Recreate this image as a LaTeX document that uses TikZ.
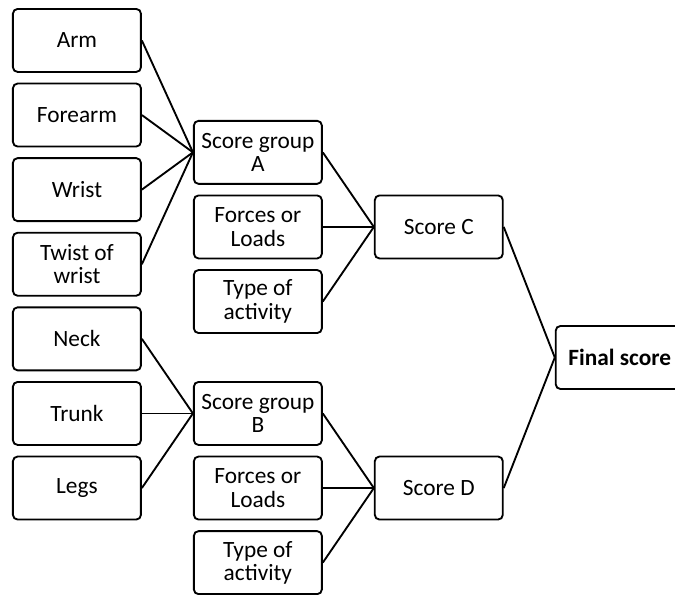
\documentclass[tikz,border=0pt]{standalone}
\usepackage{fontspec}
\setmainfont{Carlito}
\usetikzlibrary{positioning,calc}

\begin{document}
\begin{tikzpicture}[
  node distance=7.3pt and 38.3pt,
  part/.style={
    draw,
    line width=1.4pt,
    rounded corners=3.5pt,
    minimum width=96pt,
    minimum height=47.25pt,
    inner sep=1pt,
    align=center,
    font=\fontsize{17.5}{17.5}\selectfont
  },
  link/.style={line width=1.4pt}
]

  % Body parts, group A
  \node[part] (arm) {Arm};
  \node[part, below=of arm] (forearm) {Forearm};
  \node[part, below=of forearm] (wrist) {Wrist};
  \node[part, below=of wrist] (twist) {Twist of\\wrist};

  % Body parts, group B
  \node[part, below=of twist] (neck) {Neck};
  \node[part, below=of neck] (trunk) {Trunk};
  \node[part, below=of trunk] (legs) {Legs};

  % Page size
  \useasboundingbox ($(arm.north west)+(-9pt,6pt)$) rectangle +(506.25pt,-445.5pt);

  % Score group A and its extras
  \node[part, anchor=west] (groupA) at ($(forearm.east)!0.5!(wrist.east)+(38.3pt,0)$) {Score group\\A};
  \node[part, below=of groupA] (forcesA) {Forces or\\Loads};
  \node[part, below=of forcesA] (activityA) {Type of\\activity};

  % Score group B and its extras
  \node[part, right=of trunk] (groupB) {Score group\\B};
  \node[part, right=of legs] (forcesB) {Forces or\\Loads};
  \node[part, below=of forcesB] (activityB) {Type of\\activity};

  % Scores C and D
  \node[part, right=of forcesA] (scoreC) {Score C};
  \node[part, right=of forcesB] (scoreD) {Score D};

  % Final
  \node[part, anchor=west] (final) at ($(scoreC.east)!0.5!(scoreD.east)+(38.3pt,0)$) {\textbf{Final score}};

  \draw[link] (arm.east) -- (groupA.west);
  \draw[link] (forearm.east) -- (groupA.west);
  \draw[link] (wrist.east) -- (groupA.west);
  \draw[link] (twist.east) -- (groupA.west);

  \draw[link] (neck.east) -- (groupB.west);
  \draw[link] (trunk.east) -- (groupB.west);
  \draw[link] (legs.east) -- (groupB.west);

  \draw[link] (groupA.east) -- (scoreC.west);
  \draw[link] (forcesA.east) -- (scoreC.west);
  \draw[link] (activityA.east) -- (scoreC.west);

  \draw[link] (groupB.east) -- (scoreD.west);
  \draw[link] (forcesB.east) -- (scoreD.west);
  \draw[link] (activityB.east) -- (scoreD.west);

  \draw[link] (scoreC.east) -- (final.west);
  \draw[link] (scoreD.east) -- (final.west);

\end{tikzpicture}
\end{document}
